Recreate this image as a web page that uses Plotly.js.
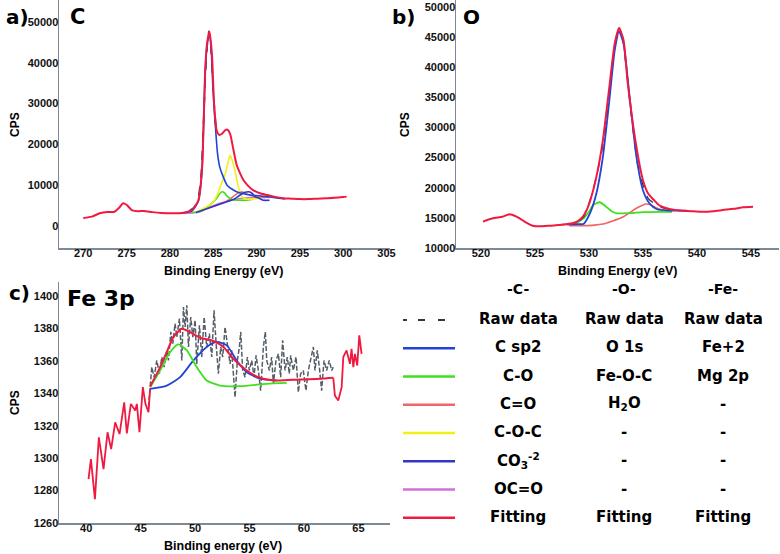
<!DOCTYPE html>
<html><head><meta charset="utf-8">
<script src="https://cdn.plot.ly/plotly-3.0.1.min.js"></script>
<style>html,body{margin:0;padding:0;background:#fff}#chart{width:780px;height:554px}</style>
</head><body><div id="chart"></div>
<script>
// ---------- Panel a) C 1s ----------
const cFitE = [270.0,271.0,272.0,272.8,273.6,274.2,274.6,275.0,275.6,276.3,277.0,278.0,279.0,280.0,281.0,281.6,282.3,282.7,283.1,283.3,283.7,283.9,284.07,284.3,284.57,284.85,285.1,285.4,285.7,286.0,286.4,286.65,286.95,287.3,287.7,288.1,288.5,289.0,289.6,290.3,291.2,292.0,293.1,294.0,295.0,296.0,297.0,298.0,299.0,300.0,300.4];
const cFitY = [1950,2300,3200,3450,3500,4600,5600,5200,3900,3600,3700,3400,3200,3100,3150,3250,3700,4200,5500,6300,13700,25900,38000,45000,47600,42100,29900,23400,22300,22600,23500,23600,22600,19000,15000,12900,11200,9900,8800,8100,7600,7200,6800,6700,6600,6600,6700,6800,6900,7100,7200];
const cRawE = [282.3,282.7,283.0,283.3,283.6,283.9,284.2,284.5,284.7,285.0,285.3];
const cRawY = [3800,4400,5300,7200,12500,26500,41000,47800,45000,33000,24500];
const cSp2E = [281.5,282.5,283.1,283.3,283.7,283.9,284.07,284.3,284.57,284.8,284.96,285.2,285.5,285.75,286.0,286.6,287.2,287.7,288.5,289.3,290.3,291.2,292.3,293.3];
const cSp2Y = [3250,3600,5300,6300,13500,25500,37500,44500,47200,42000,34000,25900,17700,14500,12900,10000,9000,8400,7900,7600,7400,7200,6900,6600];
const cCOCE = [283.0,284.0,285.0,285.5,285.8,286.1,286.4,286.7,286.95,287.2,287.5,287.9,288.3,288.8,289.5,290.5];
const cCOCY = [3400,4400,5900,7800,9600,11300,12900,15500,17300,16000,13700,9600,7200,6600,6600,6800];
const cCOE = [282.5,283.3,283.9,284.6,285.0,285.4,285.7,286.0,286.3,286.6,287.2,288.1,288.8,289.5];
const cCOY = [3300,3500,3900,5100,5900,6800,7800,8400,8100,7300,6500,6300,6300,6500];
const cCO3E = [283.0,285.0,286.5,287.5,288.1,288.6,289.1,289.5,289.8,290.3,290.8,291.5];
const cCO3Y = [3300,4800,5900,6700,7600,8200,8400,8000,7200,6800,6300,6300];
const cCdOE = [283.0,285.0,286.5,287.3,287.8,288.2,288.6,289.2,290.0,291.0];
const cCdOY = [3300,4800,6000,7200,8000,8400,8200,7600,7100,6900];
const cOCOE = [281.0,282.5,283.5,284.5,285.5,286.5,287.5,288.5,289.5,290.5,291.5];
const cOCOY = [3100,3200,3500,4500,5400,6000,6500,6800,7000,7100,7000];
const cTicksX = [270,275,280,285,290,295,300,305];
const cTicksY = [0,10000,20000,30000,40000,50000];

// ---------- Panel b) O 1s ----------
const oFitE = [520.2,521.1,522.0,522.7,523.2,523.6,524.2,524.8,525.5,526.4,527.2,527.9,528.5,528.9,529.4,529.8,530.2,530.7,531.3,531.9,532.4,532.8,533.2,533.6,534.3,535.0,535.5,536.0,536.5,537.2,538.0,538.7,539.5,540.6,541.5,542.4,543.4,544.3,545.2];
const oFitY = [14370,14930,15200,15600,15300,14930,14200,13700,13600,13700,13800,13940,14100,14370,15100,16300,18300,21840,27900,36800,44000,46500,44550,37350,27900,21300,19000,18000,17100,16600,16300,16200,16100,16000,16100,16300,16500,16760,16860];
const oRawE = [527.5,528.5,529.5,530.5,531.5,532.0,532.5,533.0,533.5,534.0,534.5,535.0,535.5,536.5,537.5,538.5,539.5];
const oRawY = [13900,14100,15100,20400,29000,37500,44600,45600,39200,31000,24000,20500,18200,16900,16400,16200,16100];
const o1sE = [528.0,529.0,529.5,530.1,530.7,531.3,531.9,532.4,532.8,533.2,533.8,534.4,535.0,535.6,536.3,537.5,539.1];
const o1sY = [13900,13950,14000,15760,19090,25170,34580,42900,45930,44000,34580,25170,19630,17420,16430,16200,16200];
const oFeOCE = [528.2,529.0,529.5,530.0,530.4,531.0,531.6,532.1,532.6,533.8,535.0,536.5,537.7];
const oFeOCY = [13990,14300,14930,16000,17140,17590,16860,16100,15760,15800,15950,16000,16000];
const oH2OE = [528.2,529.5,530.5,531.3,532.2,533.2,533.8,534.4,535.3,535.8,536.3,537.0,537.5];
const oH2OY = [13700,13720,13800,13990,14500,15200,15900,16600,17300,17100,16600,16300,16200];
const oTicksX = [520,525,530,535,540,545];
const oTicksY = [10000,15000,20000,25000,30000,35000,40000,45000,50000];

// ---------- Panel c) Fe 3p ----------
const feLeftE = [40.21,40.43,40.80,41.16,41.59,41.96,42.29,42.66,43.06,43.49,43.73,44.10,44.50,44.65,44.89,45.20,45.44,45.72,45.87];
const feLeftY = [1287.1,1299.4,1274.7,1312.9,1293.3,1316.0,1305.6,1322.1,1314.9,1334.5,1315.3,1333.5,1329.4,1333.5,1316.0,1343.8,1333.5,1328.3,1342.8];
const feRightE = [62.69,62.84,63.15,63.46,63.61,63.91,64.22,64.37,64.53,64.68,64.89,65.08,65.29];
const feRightY = [1349.6,1338.6,1335.6,1343.8,1362.4,1366.5,1358.2,1367.5,1356.2,1364.4,1357.2,1375.8,1364.4];
const feRawE = [45.72,46.02,46.24,46.48,46.73,46.94,47.16,47.40,47.55,47.77,47.95,48.16,48.32,48.56,48.78,48.93,49.08,49.24,49.39,49.60,49.79,50.00,50.15,50.40,50.61,50.83,51.07,51.31,51.53,51.74,51.93,52.14,52.35,52.54,52.75,52.91,53.21,53.36,53.52,53.67,53.88,54.07,54.19,54.37,54.59,54.80,54.98,55.20,55.41,55.60,55.81,56.02,56.27,56.45,56.58,56.82,57.03,57.19,57.43,57.65,57.86,58.04,58.26,58.47,58.65,58.78,59.02,59.27,59.48,59.69,59.94,60.18,60.40,60.61,60.86,61.01,61.22,61.41,61.62,61.84,62.08,62.32,62.54,62.69];
const feRawY = [1331.4,1356.2,1350.0,1360.3,1352.1,1362.4,1356.2,1366.5,1360.3,1377.9,1370.6,1383.0,1374.7,1386.1,1360.3,1393.3,1380.9,1394.3,1368.6,1387.1,1374.7,1385.1,1358.2,1382.0,1362.4,1387.1,1368.6,1376.8,1362.4,1391.3,1370.6,1352.1,1368.6,1362.4,1380.9,1372.7,1358.2,1366.5,1350.0,1337.6,1360.3,1368.6,1377.9,1354.1,1350.0,1362.4,1354.1,1360.3,1350.0,1363.4,1354.1,1341.7,1368.6,1377.9,1360.3,1354.1,1362.4,1345.9,1360.3,1364.4,1350.0,1372.7,1354.1,1362.4,1352.1,1363.4,1354.1,1362.4,1340.7,1352.1,1354.1,1341.7,1354.1,1360.3,1368.6,1354.1,1366.5,1356.2,1341.7,1360.3,1354.1,1360.3,1354.1,1356.2];
const feFitE = [45.87,46.79,47.40,48.01,48.78,49.54,50.46,51.68,52.60,53.52,54.74,55.96,57.49,59.63,61.47,62.69];
const feFitY = [1344.2,1356.2,1365.5,1374.7,1379.9,1377.8,1374.3,1372.3,1368.6,1361.3,1354.1,1349.6,1347.9,1348.6,1349.0,1349.6];
const feMgE = [45.87,46.79,47.71,48.47,49.24,50.15,51.07,52.29,54.13,56.58,58.41];
const feMgY = [1343.8,1354.1,1365.5,1370.2,1366.5,1356.2,1347.9,1344.8,1344.4,1345.9,1346.5];
const feFe2E = [45.87,47.40,48.62,49.85,51.07,51.99,52.91,53.82,54.74,55.96,57.49];
const feFe2Y = [1342.8,1344.8,1350.0,1360.3,1368.6,1371.7,1369.6,1360.3,1353.1,1349.0,1347.9];
const feTicksX = [40,45,50,55,60,65];
const feTicksY = [1260,1280,1300,1320,1340,1360,1380,1400];

// ---------- Legend table ----------
const legendHeaders = ['-C-','-O-','-Fe-'];
const legendC = ['Raw data','C sp2','C-O','C=O','C-O-C','CO<sub>3</sub><sup>-2</sup>','OC=O','Fitting'];
const legendO = ['Raw data','O 1s','Fe-O-C','H<sub>2</sub>O','-','-','-','Fitting'];
const legendFe = ['Raw data','Fe+2','Mg 2p','-','-','-','-','Fitting'];
const legendColors = ['#2e3a44','#2244d4','#3ee01e','#f06464','#f2f016','#3434c8','#d070d4','#f01a40'];

// colours
const RED='#f01a40', BLUE='#2244d4', GREEN='#3ee01e', SALMON='#f06464', YELLOW='#f2f016', CO3C='#3434c8', PINK='#d070d4', RAW='#2e3a44', RAWC='#555e68';

function tr(x,y,color,width,xa,ya,dash){
  return {x:x,y:y,type:'scatter',mode:'lines',line:{color:color,width:width,dash:dash||'solid',shape:'spline',smoothing:0.6},xaxis:xa,yaxis:ya,hoverinfo:'skip',showlegend:false};
}
function trL(x,y,color,width,xa,ya,dash){
  return {x:x,y:y,type:'scatter',mode:'lines',line:{color:color,width:width,dash:dash||'solid'},xaxis:xa,yaxis:ya,hoverinfo:'skip',showlegend:false};
}

const data = [
  // a
  tr(cOCOE,cOCOY,PINK,1.4,'x','y'),
  tr(cCdOE,cCdOY,SALMON,1.4,'x','y'),
  tr(cCOE,cCOY,GREEN,1.6,'x','y'),
  tr(cCOCE,cCOCY,YELLOW,1.6,'x','y'),
  tr(cCO3E,cCO3Y,CO3C,1.6,'x','y'),
  tr(cRawE,cRawY,RAW,1.6,'x','y','dash'),
  tr(cSp2E,cSp2Y,BLUE,1.6,'x','y'),
  tr(cFitE,cFitY,RED,2,'x','y'),
  // b
  tr(oH2OE,oH2OY,SALMON,1.6,'x2','y2'),
  tr(oFeOCE,oFeOCY,GREEN,1.8,'x2','y2'),
  tr(oRawE,oRawY,RAW,1.4,'x2','y2','dash'),
  tr(o1sE,o1sY,BLUE,1.8,'x2','y2'),
  tr(oFitE,oFitY,RED,2,'x2','y2'),
  // c
  trL(feRawE,feRawY,RAWC,1.5,'x3','y3','5px,2px'),
  trL(feLeftE,feLeftY,RED,1.8,'x3','y3'),
  trL(feRightE,feRightY,RED,1.8,'x3','y3'),
  tr(feFe2E,feFe2Y,BLUE,1.8,'x3','y3'),
  tr(feMgE,feMgY,GREEN,1.8,'x3','y3'),
  tr(feFitE,feFitY,RED,2,'x3','y3')
];

const W=780,H=554;
const px=v=>v/W, py=v=>1-v/H;
const tickFont={family:'Liberation Sans, Arial, sans-serif',size:11,color:'#111',weight:'bold'};
function ax(domain,range,tickvals,anchor,extra){
  return Object.assign({domain:domain,range:range,tickvals:tickvals,ticktext:tickvals.map(String),anchor:anchor,
    showgrid:false,zeroline:false,showline:true,linecolor:'#7d8a96',linewidth:1.5,ticks:'',
    tickfont:tickFont,fixedrange:true},extra||{});
}

const annotations=[];
function ann(text,x,y,size,opts){
  annotations.push(Object.assign({text:text,x:x,y:y,xref:'paper',yref:'paper',showarrow:false,xanchor:'center',yanchor:'middle',
    font:{family:'Liberation Sans, Arial, sans-serif',size:size,color:'#000',weight:'bold'}},opts||{}));
}
const big={family:'DejaVu Sans, sans-serif',weight:'bold',color:'#000'};
ann('a)',px(17),py(17),20,{font:Object.assign({size:20},big)});
ann('C',px(77),py(17),21,{font:Object.assign({size:21},big)});
ann('b)',px(403),py(17),20,{font:Object.assign({size:20},big)});
ann('O',px(472),py(17),20,{font:Object.assign({size:20},big)});
ann('c)',px(19),py(293),20,{font:Object.assign({size:20},big)});
ann('Fe 3p',px(101),py(298),22,{font:Object.assign({size:22},big)});
ann('Binding Energy (eV)',px(224),py(271),12.5);
ann('Binding Energy (eV)',px(617),py(271),12.5);
ann('Binding energy (eV)',px(223),py(546),12.5);
ann('CPS',px(15),py(125),12,{textangle:-90});
ann('CPS',px(405),py(125),12,{textangle:-90});
ann('CPS',px(15),py(403),12,{textangle:-90});

// legend table
const colX=[518,624,723];
const rowY0=319, rowStep=28.25, headY=289;
const tf={family:'DejaVu Sans, sans-serif',weight:'bold',color:'#000'};
legendHeaders.forEach((h,i)=>ann(h,px(colX[i]),py(headY),14,{font:Object.assign({size:14},tf)}));
[legendC,legendO,legendFe].forEach((col,ci)=>{
  col.forEach((t,ri)=>ann(t,px(colX[ci]),py(rowY0+ri*rowStep),15,{font:Object.assign({size:15},tf)}));
});
const shapes=[];
legendColors.forEach((c,ri)=>{
  const y=py(rowY0+ri*rowStep+1);
  if(ri===0){
    [[403,407],[418,425],[438,445]].forEach(s=>shapes.push({type:'line',xref:'paper',yref:'paper',x0:px(s[0]),x1:px(s[1]),y0:y,y1:y,line:{color:c,width:2}}));
  } else {
    shapes.push({type:'line',xref:'paper',yref:'paper',x0:px(403),x1:px(455),y0:y,y1:y,line:{color:c,width:2.5}});
  }
});

const xs={ticklabelstandoff:-6};
const ys={ticklabelstandoff:-3};
const layout={
  width:W,height:H,margin:{l:0,r:0,t:0,b:0},paper_bgcolor:'#fff',plot_bgcolor:'#fff',showlegend:false,
  xaxis:ax([px(59),px(390)],[267.2,305.4],cTicksX,'y',xs),
  yaxis:ax([py(248),1],[-5390,55390],cTicksY,'x',ys),
  xaxis2:ax([px(456),px(779)],[517.7,547.6],oTicksX,'y2',xs),
  yaxis2:ax([py(248),1],[10000,51160],oTicksY,'x2',ys),
  xaxis3:ax([px(59),px(390)],[37.5,67.9],feTicksX,'y3',xs),
  yaxis3:ax([py(523),py(282)],[1260,1408.7],feTicksY,'x3',ys),
  annotations:annotations,shapes:shapes
};
Plotly.newPlot('chart',data,layout,{staticPlot:true,displayModeBar:false});
</script></body></html>
